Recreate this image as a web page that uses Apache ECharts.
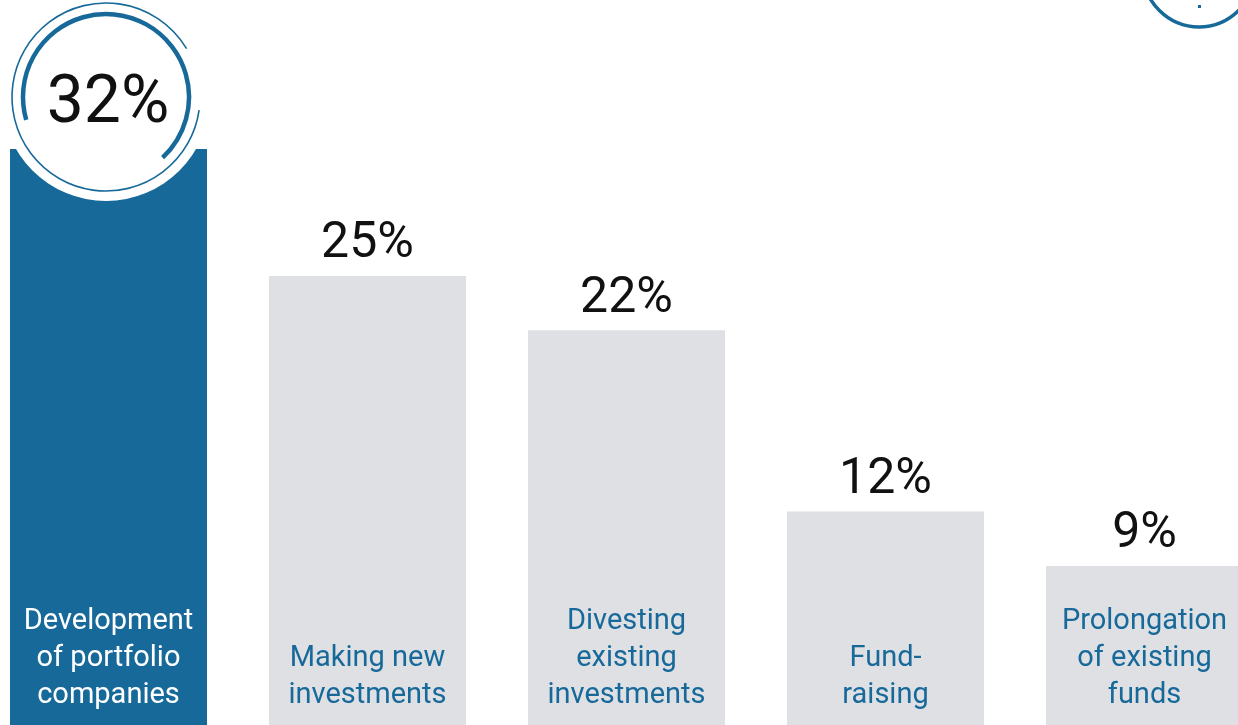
<!DOCTYPE html>
<html>
<head>
<meta charset="utf-8">
<script src="https://cdn.jsdelivr.net/npm/echarts@6/dist/echarts.min.js"></script>
<style>
  html, body { margin: 0; padding: 0; background: #fff; }
  #chart { width: 1238px; height: 725px; }
</style>
</head>
<body>
<div id="chart"></div>
<script>
// 各項活動佔比
var categories = [
  'Development\nof portfolio\ncompanies',
  'Making new\ninvestments',
  'Divesting\nexisting\ninvestments',
  'Fund-\nraising',
  'Prolongation\nof existing\nfunds'
];
var shares = [32, 25, 22, 12, 9];

var BLUE = '#17699a';
var GREY = '#dfe0e4';
var FONT = '"Liberation Sans Narrow", "Arial Narrow", Roboto, sans-serif';

var chart = echarts.init(document.getElementById('chart'));

var option = {
  animation: false,
  grid: { left: -21, right: -36, top: 4, bottom: -4, outerBoundsMode: 'none' },
  xAxis: {
    type: 'category',
    data: categories,
    axisLine: { show: false },
    axisTick: { show: false },
    axisLabel: {
      inside: true,
      interval: 0,
      margin: 15,
      fontFamily: FONT,
      fontSize: 29,
      lineHeight: 37,
      align: 'center',
      color: function (v, i) { return i === 0 ? '#fff' : BLUE; }
    },
    z: 10
  },
  yAxis: { type: 'value', min: 0, max: 40, show: false },
  series: [{
    type: 'bar',
    barWidth: 197,
    data: shares.map(function (v, i) {
      var item = { value: v, itemStyle: { color: i === 0 ? BLUE : GREY } };
      if (i === 0) {
        // 最高的一項：白色圓底包住數字
        item.label = {
          position: [96, -52],
          align: 'center',
          verticalAlign: 'middle',
          formatter: '{n|{c}%}',
          width: 208,
          height: 208,
          backgroundColor: '#fff',
          borderRadius: 104,
          rich: {
            n: {
              fontFamily: FONT,
              fontSize: 66,
              color: '#111',
              lineHeight: 208,
              padding: [16, 0, 0, 4]
            }
          }
        };
      }
      return item;
    }),
    label: {
      show: true,
      position: 'top',
      distance: 6,
      fontFamily: FONT,
      fontSize: 50,
      color: '#111',
      formatter: '{c}%'
    }
  }]
};
chart.setOption(option);

// 第一根柱子頂端的位置，拿來放裝飾圓環
var top0 = chart.convertToPixel({ seriesIndex: 0 }, [0, shares[0]]);
var cx = top0[0] - 2.5, cy = top0[1] - 52;
var deg = Math.PI / 180;
chart.setOption({
  graphic: [
    {
      type: 'arc', z: 100,
      shape: { cx: cx, cy: cy, r: 94, startAngle: 8 * deg, endAngle: 329 * deg, clockwise: true },
      style: { stroke: BLUE, lineWidth: 1.6, fill: null }
    },
    {
      type: 'arc', z: 100,
      shape: { cx: cx, cy: cy, r: 83, startAngle: 164 * deg, endAngle: 407 * deg, clockwise: true },
      style: { stroke: BLUE, lineWidth: 4.5, fill: null }
    },
    {
      type: 'circle', z: 100,
      shape: { cx: 1199, cy: -29, r: 56 },
      style: { stroke: BLUE, lineWidth: 3.5, fill: null }
    },
    {
      type: 'rect', z: 100,
      shape: { x: 1198, y: 5, width: 3, height: 3 },
      style: { fill: BLUE }
    }
  ]
});
</script>
</body>
</html>
